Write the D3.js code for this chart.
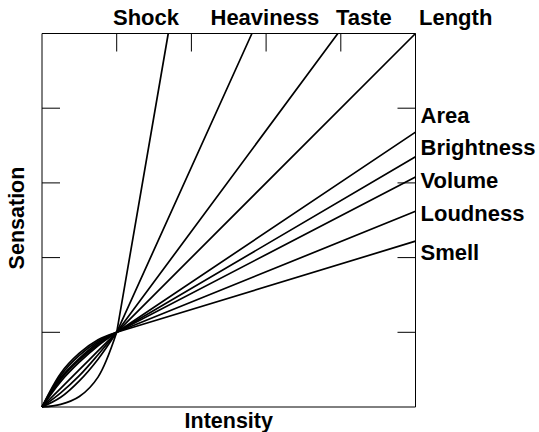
<!DOCTYPE html>
<html>
<head>
<meta charset="utf-8">
<script src="https://cdn.jsdelivr.net/npm/d3@7"></script>
<style>
  body { margin: 0; background: #fff; }
  text { font-family: "Liberation Sans", Arial, sans-serif; font-weight: bold; fill: #000; }
</style>
</head>
<body>
<script>
// Stevens power-law sensations
var senses = ["Shock", "Heaviness", "Taste", "Length", "Area", "Brightness", "Volume", "Loudness", "Smell"];

// intensity samples below the crossing point
var lowX = [0, 0.25, 0.5, 0.75, 1];
var lowY = [
  [0, 0.035, 0.14, 0.4, 1],
  [0, 0.13, 0.35, 0.64, 1],
  [0, 0.19, 0.42, 0.7, 1],
  [0, 0.25, 0.5, 0.75, 1],
  [0, 0.34, 0.6, 0.82, 1],
  [0, 0.37, 0.63, 0.84, 1],
  [0, 0.39, 0.65, 0.86, 1],
  [0, 0.42, 0.69, 0.88, 1],
  [0, 0.45, 0.72, 0.9, 1]
];
// where each line leaves the box
var endX = [1.69, 2.81, 3.96, 5, 5, 5, 5, 5, 5];
var endY = [5, 5, 5, 5, 3.68, 3.35, 3.08, 2.62, 2.22];

var tickVals = [1, 2, 3, 4];

var width = 539, height = 432;

var x = d3.scaleLinear().domain([0, 5]).range([42, 415.5]),
    y = d3.scaleLinear().domain([0, 5]).range([407, 33.5]);

var svg = d3.select("body").append("svg")
    .attr("width", width)
    .attr("height", height);

// frame
svg.append("line").attr("x1", x(0)).attr("x2", x(0)).attr("y1", y(0)).attr("y2", y(5))
    .attr("stroke", "#000").attr("stroke-width", 1);
svg.append("line").attr("x1", x(0)).attr("x2", x(5)).attr("y1", y(0)).attr("y2", y(0))
    .attr("stroke", "#000").attr("stroke-width", 1);
svg.append("line").attr("x1", x(5)).attr("x2", x(5)).attr("y1", y(0)).attr("y2", y(5))
    .attr("stroke", "#000").attr("stroke-width", 1);
svg.append("line").attr("x1", x(0)).attr("x2", x(5)).attr("y1", y(5)).attr("y2", y(5))
    .attr("stroke", "#000").attr("stroke-width", 1);

// inward ticks: left, right, top
var tl = 18;
svg.selectAll(".tickL").data(tickVals).enter().append("line")
    .attr("x1", x(0)).attr("x2", x(0) + tl)
    .attr("y1", function(d) { return y(d); }).attr("y2", function(d) { return y(d); })
    .attr("stroke", "#000");
svg.selectAll(".tickR").data(tickVals).enter().append("line")
    .attr("x1", x(5)).attr("x2", x(5) - tl)
    .attr("y1", function(d) { return y(d); }).attr("y2", function(d) { return y(d); })
    .attr("stroke", "#000");
svg.selectAll(".tickT").data(tickVals).enter().append("line")
    .attr("x1", function(d) { return x(d); }).attr("x2", function(d) { return x(d); })
    .attr("y1", y(5)).attr("y2", y(5) + tl)
    .attr("stroke", "#000");

var curve = d3.line()
    .x(function(d) { return x(d[0]); })
    .y(function(d) { return y(d[1]); })
    .curve(d3.curveCatmullRom.alpha(0.5));
var straight = d3.line()
    .x(function(d) { return x(d[0]); })
    .y(function(d) { return y(d[1]); });

senses.forEach(function(s, i) {
  var pts = lowX.map(function(v, j) { return [v, lowY[i][j]]; });
  svg.append("path")
      .attr("d", curve(pts) + straight([[1, 1], [endX[i], endY[i]]]).replace("M", "L"))
      .attr("fill", "none")
      .attr("stroke", "#000")
      .attr("stroke-width", 1.7);
});

// labels (pixel placement)
var topLabelX = [113, 210.5, 336, 419];
var rightLabelY = [123, 155, 188, 221, 260];

senses.forEach(function(s, i) {
  var t = svg.append("text").style("font-size", "22px").text(s);
  if (i < 4) t.attr("x", topLabelX[i]).attr("y", 25);
  else t.attr("x", 420.5).attr("y", rightLabelY[i - 4]);
});

svg.append("text")
    .attr("x", (x(0) + x(5)) / 2)
    .attr("y", 428)
    .attr("text-anchor", "middle")
    .style("font-size", "21.5px")
    .text("Intensity");

svg.append("text")
    .attr("transform", "translate(24," + 218 + ") rotate(-90)")
    .attr("text-anchor", "middle")
    .style("font-size", "21.5px")
    .text("Sensation");
</script>
</body>
</html>
